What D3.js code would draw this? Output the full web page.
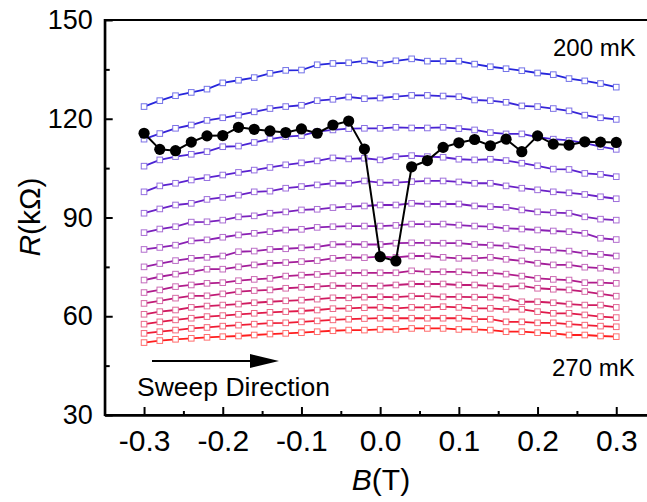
<!DOCTYPE html>
<html>
<head>
<meta charset="utf-8">
<script src="https://cdn.jsdelivr.net/npm/d3@7"></script>
<style>
body { margin: 0; background: #fff; }
text { font-family: "Liberation Sans", Arial, sans-serif; }
</style>
</head>
<body>
<svg id="chart"></svg>
<script>
// magnetic field (T)
var bField = [-0.30,-0.28,-0.26,-0.24,-0.22,-0.20,-0.18,-0.16,-0.14,-0.12,-0.10,-0.08,-0.06,-0.04,-0.02,
  0.00,0.02,0.04,0.06,0.08,0.10,0.12,0.14,0.16,0.18,0.20,0.22,0.24,0.26,0.28,0.30]

// R(kOhm) at each temperature, 200 mK -> 270 mK
var r200 = [123.7,125.5,127.0,128.0,129.0,130.9,131.7,132.5,133.8,134.7,134.8,136.4,136.8,137.0,137.6,136.8,
  137.6,138.2,137.5,137.5,137.5,136.6,135.8,135.2,134.6,133.9,133.4,132.2,131.5,130.7,129.6]
var r205 = [113.8,115.5,117.1,118.1,119.5,120.3,121.1,122.1,123.1,123.7,124.1,125.5,125.9,126.6,126.1,126.3,
  126.7,127.1,127.1,126.9,126.7,125.7,125.5,125.0,123.9,123.7,123.1,122.4,121.1,120.3,119.8]
var r210 = [105.6,107.5,108.5,109.2,110.0,111.5,111.7,112.8,113.8,114.6,114.9,116.1,116.6,117.0,117.1,117.1,
  117.4,117.2,117.2,117.4,117.0,116.6,115.8,115.4,115.4,114.4,113.8,113.4,112.6,111.5,110.7]
var r215 = [97.8,99.6,100.4,101.4,102.1,102.9,103.7,104.4,105.2,106.0,106.6,107.2,108.1,107.8,108.0,107.5,
  108.5,108.8,108.5,108.3,107.7,107.5,107.7,107.3,106.5,105.7,104.7,104.6,103.4,103.1,102.4]
var r220 = [91.3,92.6,93.8,94.3,95.5,96.1,96.8,97.8,98.0,98.9,99.4,99.9,100.4,100.4,101.1,100.6,
  100.6,100.9,101.1,101.1,100.8,100.4,100.4,99.6,98.9,98.4,97.8,97.5,97.0,96.3,95.7]
var r225 = [85.4,86.5,87.2,88.6,88.7,89.2,90.2,90.5,91.3,91.7,92.3,92.5,93.0,93.3,93.5,93.8,
  93.8,94.3,94.1,94.1,94.1,93.5,93.3,93.1,92.3,91.7,91.5,91.3,90.2,89.5,89.2]
var r230 = [80.3,80.9,81.6,82.9,83.2,84.0,84.7,85.2,85.7,86.2,86.4,87.0,87.2,87.4,87.4,87.4,
  87.6,88.0,88.0,88.0,87.7,87.4,87.2,86.7,86.5,86.2,85.9,85.7,85.2,83.7,83.3]
var r235 = [75.0,76.0,76.9,77.6,77.9,78.3,79.6,79.8,80.3,80.5,80.8,81.1,81.8,81.9,81.8,81.8,
  82.2,82.3,82.3,82.2,82.2,81.8,81.6,81.4,80.8,80.3,80.1,79.8,79.1,78.8,78.3]
var r240 = [71.0,72.0,72.8,73.5,74.3,74.3,75.0,75.6,76.1,76.3,76.6,76.9,77.6,77.9,77.8,78.1,
  77.9,78.3,78.3,77.9,77.6,77.6,77.9,77.3,76.8,76.1,75.6,75.6,74.9,74.6,74.0]
var r245 = [67.2,68.0,69.0,69.5,70.0,70.2,70.8,71.2,71.5,72.2,72.5,72.7,73.0,73.2,73.2,73.2,
  73.2,73.8,73.5,73.5,73.5,73.2,73.2,72.8,72.2,71.5,71.2,71.0,70.2,70.2,70.0]
var r250 = [63.9,64.7,65.5,66.2,66.2,66.8,67.5,67.8,68.0,68.5,68.8,69.0,69.3,69.2,69.2,69.2,
  69.5,69.8,69.8,69.8,69.5,69.5,69.2,69.0,69.2,68.5,68.2,68.0,67.5,66.8,66.1]
var r255 = [60.6,61.4,61.9,62.7,63.1,63.4,63.7,64.1,64.4,64.7,64.9,65.2,65.6,65.6,65.8,65.9,
  65.8,66.1,66.1,65.9,65.9,65.8,65.8,65.5,64.4,64.4,64.1,63.7,63.4,63.4,62.7]
var r260 = [57.6,58.3,58.9,59.4,59.9,60.2,60.6,60.9,61.2,61.4,61.6,61.9,62.3,62.4,62.6,62.7,
  62.4,62.7,62.7,62.9,62.7,62.4,62.4,62.1,62.1,61.4,60.9,60.9,60.4,59.9,59.6]
var r265 = [54.8,55.3,55.8,56.3,56.6,57.0,57.3,57.6,57.9,58.0,58.3,58.6,58.9,59.1,59.3,59.4,
  59.4,59.4,59.4,59.4,59.4,59.1,59.1,58.3,58.3,58.0,58.0,57.6,57.3,57.0,56.8]
var r270 = [52.0,52.6,53.0,53.3,53.6,53.8,54.0,54.3,54.6,54.8,55.0,55.3,55.6,55.8,55.8,56.0,
  56.0,56.3,56.3,56.3,56.0,56.0,55.8,55.3,55.3,55.0,54.8,54.3,54.3,54.0,53.8]

// the sweep with the dip near zero field
var rSweep = [115.6,110.7,110.3,112.9,114.8,114.9,117.4,116.8,116.3,115.8,116.9,115.6,118.1,119.3,110.8,
  78.1,76.8,105.4,107.3,111.3,112.7,113.7,111.8,113.8,110.0,114.8,112.3,112.0,113.0,112.9,112.8]

var curves = [r200,r205,r210,r215,r220,r225,r230,r235,r240,r245,r250,r255,r260,r265,r270]

var xTicks = [-0.3,-0.2,-0.1,0.0,0.1,0.2,0.3]
var yTicks = [30,60,90,120,150]

var W = 647, H = 502
var svg = d3.select('#chart').attr('width', W).attr('height', H)

var x = d3.scaleLinear().domain([-0.35, 0.35]).range([104.7, 655.6])
var y = d3.scaleLinear().domain([30, 150]).range([415, 20])

// blue -> purple -> red
var col = d3.scaleLinear()
  .domain([0, 3, 6, 9, 12, 14])
  .range(['#2626dc', '#5a22d0', '#8a20b4', '#b01c8c', '#e01a4a', '#ff1e1e'])

var line = d3.line()
  .x(function(d, i) { return x(bField[i]) })
  .y(function(d) { return y(d) })

curves.forEach(function(c, k) {
  var g = svg.append('g')
  var c0 = col(k)
  g.append('path')
    .attr('d', line(c))
    .attr('fill', 'none')
    .attr('stroke', c0)
    .attr('stroke-width', 1.8)
  g.selectAll('rect')
    .data(c)
    .enter()
    .append('rect')
    .attr('x', function(d, i) { return x(bField[i]) - 2.8 })
    .attr('y', function(d) { return y(d) - 2.8 })
    .attr('width', 5.6)
    .attr('height', 5.6)
    .attr('fill', '#fff')
    .attr('stroke', d3.interpolateRgb(c0, '#fff')(0.35))
    .attr('stroke-width', 1)
})

// black sweep curve
svg.append('path')
  .attr('d', line(rSweep))
  .attr('fill', 'none')
  .attr('stroke', '#000')
  .attr('stroke-width', 2)
svg.selectAll('circle.sw')
  .data(rSweep)
  .enter()
  .append('circle')
  .attr('class', 'sw')
  .attr('cx', function(d, i) { return x(bField[i]) })
  .attr('cy', function(d) { return y(d) })
  .attr('r', 5.6)
  .attr('fill', '#000')

// frame
svg.append('rect')
  .attr('x', x.range()[0]).attr('y', y.range()[1])
  .attr('width', x.range()[1] - x.range()[0])
  .attr('height', y.range()[0] - y.range()[1])
  .attr('fill', 'none')
  .attr('stroke', '#000')
  .attr('stroke-width', 2)

// x axis (ticks inward)
svg.append('g')
  .attr('class', 'xax')
  .attr('transform', 'translate(0,415)')
  .call(d3.axisBottom(x).tickValues(xTicks).tickSize(-8).tickSizeOuter(0).tickPadding(15)
    .tickFormat(function(d) { return d.toFixed(1) }))
svg.append('g')
  .attr('transform', 'translate(0,415)')
  .call(d3.axisBottom(x).tickValues(d3.range(-0.25, 0.3, 0.1)).tickSize(-4).tickSizeOuter(0).tickFormat(''))

// y axis
svg.append('g')
  .attr('class', 'yax')
  .attr('transform', 'translate(104.7,0)')
  .call(d3.axisLeft(y).tickValues(yTicks).tickSize(-8).tickSizeOuter(0).tickPadding(12))
svg.append('g')
  .attr('transform', 'translate(104.7,0)')
  .call(d3.axisLeft(y).tickValues([45,75,105,135]).tickSize(-5).tickSizeOuter(0).tickFormat(''))

svg.selectAll('.domain').attr('stroke-width', 2)
svg.selectAll('.tick line').attr('stroke-width', 2)
svg.selectAll('.tick text')
  .style('font-family', '"Liberation Sans", Arial, sans-serif')
  .attr('fill', '#000')
svg.selectAll('.yax .tick text').style('font-size', '27px')
svg.selectAll('.xax .tick text').style('font-size', '30px')

// axis titles
svg.append('text')
  .attr('x', 381).attr('y', 490)
  .attr('text-anchor', 'middle')
  .style('font-size', '30px')
  .html('<tspan font-style="italic">B</tspan>(T)')
svg.append('text')
  .attr('transform', 'translate(40,217) rotate(-90)')
  .attr('text-anchor', 'middle')
  .style('font-size', '30px')
  .html('<tspan font-style="italic">R</tspan>(kΩ)')

// annotations
svg.append('text').attr('x', 553).attr('y', 56).style('font-size', '24px').text('200 mK')
svg.append('text').attr('x', 552).attr('y', 376).style('font-size', '24px').text('270 mK')
svg.append('text').attr('x', 137).attr('y', 396).style('font-size', '26.5px').text('Sweep Direction')

svg.append('line')
  .attr('x1', 152).attr('y1', 361).attr('x2', 256).attr('y2', 361)
  .attr('stroke', '#000').attr('stroke-width', 2)
svg.append('path')
  .attr('d', 'M250,354 L279,361 L250,368 Z')
  .attr('fill', '#000')
</script>
</body>
</html>
